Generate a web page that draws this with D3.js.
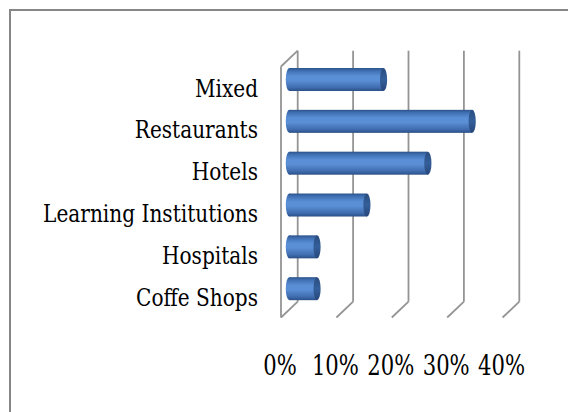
<!DOCTYPE html>
<html><head><meta charset="utf-8">
<script src="https://cdn.jsdelivr.net/npm/d3@7/dist/d3.min.js"></script>
<style>
html,body{margin:0;padding:0;background:#fff;overflow:hidden;}
svg{display:block;}
text{font-family:"DejaVu Serif","Liberation Serif",serif;fill:#000;}
</style></head>
<body>
<script>
const categories = ["Mixed","Restaurants","Hotels","Learning Institutions","Hospitals","Coffe Shops"];
const values = [0.17,0.33,0.25,0.14,0.05,0.05];
const ticks = [0,0.1,0.2,0.3,0.4];
const tickLabels = ["0%","10%","20%","30%","40%"];

const W = 568, H = 412;
const svg = d3.select("body").append("svg").attr("width",W).attr("height",H);

// chart border (extends beyond window on right/bottom)
svg.append("rect").attr("x",10).attr("y",10).attr("width",W+20).attr("height",H+20)
  .attr("fill","#fff").attr("stroke","#868686").attr("stroke-width",2);

// 3D geometry
const depthX = 16.7, depthY = -15.8;     // front -> back offset
const frontX0 = 281;                      // front plane origin x
const backTop = 50.7, backBottom = 301.7; // back wall vertical extent
const x = d3.scaleLinear().domain([0,0.4]).range([0,221.6]);
const y = d3.scaleBand().domain(categories).range([backTop,backBottom]).paddingInner(0.45).paddingOuter(0.225);

const backX0 = frontX0 + depthX;
const midX0 = frontX0 + depthX/2;
const midDY = -depthY/2;

const defs = svg.append("defs");
const g1 = defs.append("linearGradient").attr("id","barGrad").attr("x1",0).attr("y1",0).attr("x2",0).attr("y2",1);
[[0,"#2c538a"],[0.12,"#3f6fb2"],[0.35,"#5a8fd6"],[0.55,"#5a8ed5"],[0.85,"#3f6cae"],[1,"#2b4f86"]]
  .forEach(([o,c])=>g1.append("stop").attr("offset",o).attr("stop-color",c));
const g2 = defs.append("linearGradient").attr("id","capGrad").attr("x1",0).attr("y1",0).attr("x2",0).attr("y2",1);
[[0,"#2a4d80"],[0.5,"#345f9a"],[1,"#27467a"]]
  .forEach(([o,c])=>g2.append("stop").attr("offset",o).attr("stop-color",c));

const grid = svg.append("g").attr("stroke","#949494").attr("stroke-width",1.8).attr("fill","none");
// back wall gridlines
grid.selectAll("line.back").data(ticks).join("line").attr("class","back")
  .attr("x1",d=>backX0+x(d)).attr("x2",d=>backX0+x(d)).attr("y1",backTop).attr("y2",backBottom);
// floor diagonals
grid.selectAll("line.floor").data(ticks).join("line").attr("class","floor")
  .attr("x1",d=>backX0+x(d)).attr("y1",backBottom)
  .attr("x2",d=>frontX0+x(d)).attr("y2",backBottom-depthY);
// left wall front edge and top edge
grid.append("line").attr("x1",frontX0).attr("x2",frontX0).attr("y1",backTop-depthY).attr("y2",backBottom-depthY);
grid.append("line").attr("x1",frontX0).attr("y1",backTop-depthY).attr("x2",backX0).attr("y2",backTop);

// bars
const bh = y.bandwidth();
const rx = 3.6;
const bars = svg.append("g").selectAll("g").data(categories).join("g");
bars.append("rect")
  .attr("x",midX0).attr("y",d=>y(d)+midDY)
  .attr("width",(d,i)=>x(values[i])).attr("height",bh)
  .attr("fill","url(#barGrad)");
bars.append("ellipse")
  .attr("cx",midX0).attr("cy",d=>y(d)+midDY+bh/2).attr("rx",rx).attr("ry",bh/2)
  .attr("fill","url(#barGrad)");
bars.append("ellipse")
  .attr("cx",(d,i)=>midX0+x(values[i])).attr("cy",d=>y(d)+midDY+bh/2).attr("rx",rx).attr("ry",bh/2)
  .attr("fill","url(#capGrad)");

// category labels (front plane)
const labelRight = 258;
const lab = svg.append("g").selectAll("text").data(categories).join("text")
  .attr("text-anchor","end").style("font-size","25px").text(d=>d);
let maxW = 0;
lab.each(function(){ maxW = Math.max(maxW, this.getComputedTextLength()); });
const sxL = 215/maxW;
lab.attr("transform",d=>`translate(${labelRight},${y(d)+bh/2-depthY+9.2}) scale(${sxL},1)`);

// tick labels (front floor)
const tl = svg.append("g").selectAll("text").data(ticks).join("text")
  .attr("text-anchor","middle").style("font-size","27px").text((d,i)=>tickLabels[i]);
let tw = 0;
tl.each(function(d,i){ if(i===4) tw = this.getComputedTextLength(); });
const sxT = 47/tw;
tl.attr("transform",d=>`translate(${frontX0+x(d)-1},375) scale(${sxT},1)`);
</script>
</body></html>
